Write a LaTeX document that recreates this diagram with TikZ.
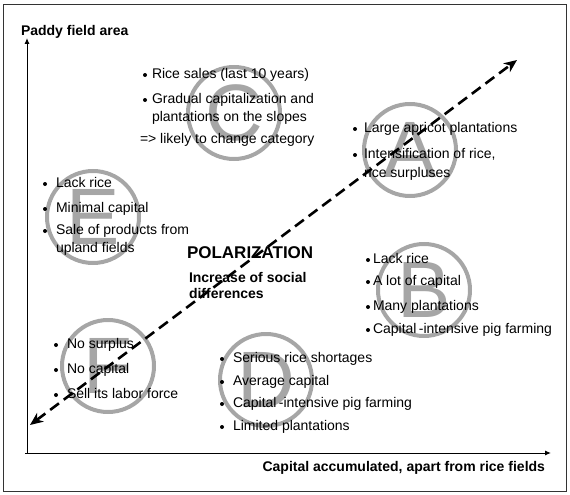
\documentclass[tikz,border=0pt]{standalone}
\usepackage{fontspec}
\setmainfont{Liberation Sans}
\usetikzlibrary{arrows.meta}
\definecolor{ringgray}{HTML}{A6A6A6}
\newcommand{\mybul}[2]{\fill ([xshift=-#2pt,yshift=3pt]#1.base west) circle (2pt);}
\begin{document}
\begin{tikzpicture}[x=1pt,y=-1pt,
  every node/.style={inner sep=0pt,outer sep=0pt},
  txt/.style={anchor=base west,font=\fontsize{14}{16}\selectfont},
  btxt/.style={anchor=base west,font=\fontsize{14}{16}\selectfont\bfseries},
  ring/.style={draw=ringgray,line width=4pt},
  letter/.style={text=ringgray,font=\fontsize{80}{80}\selectfont},
  axis/.style={line width=1pt,-{Latex[length=6pt,width=5pt]}},
  polar/.style={line width=2.6pt,dash pattern=on 11pt off 6pt,{Stealth[length=13pt,width=11pt,inset=4pt]}-{Stealth[length=13pt,width=11pt,inset=4pt]}}]
\useasboundingbox (0,0) rectangle (570,495);
\draw[line width=0.8pt,black!80] (3,4) rectangle (566,491);
% circles with letters
\foreach \n/\l/\cx/\cy in {cC/C/234/113, cA/A/410/150, cE/E/93/217, cF/F/108/366, cD/D/266/380, cB/B/424/290}{
  \draw[ring] (\cx,\cy) circle (46);
  \node[letter] (\n) at (\cx,\cy) {\l};
}
% axes
\coordinate (O) at (27,453);
\coordinate (ytip) at (27,38);
\coordinate (xtip) at (551,453);
\draw[axis] (O) -- (ytip);
\draw[axis] ([xshift=-2pt]O) -- (xtip);
\node[btxt] (ylab) at (21,36) {Paddy field area};
\node[btxt,anchor=base east] (xlab) at (545,471) {Capital accumulated, apart from rice fields};
% polarization arrow
\coordinate (dl) at (30,425);
\coordinate (dr) at (517,60);
\draw[polar] (dl) -- (dr);
% group C
\node[txt] (c1) at (152,78) {Rice sales (last 10 years)};
\node[txt] (c2) at (152,103) {Gradual capitalization and};
\node[txt] (c3) at (152,121) {plantations on the slopes};
\node[txt] (c4) at (140,143) {=> likely to change category};
\mybul{c1}{7}\mybul{c2}{7}
% group A
\node[txt] (a1) at (364,132) {Large apricot plantations};
\node[txt] (a2) at (364,158) {Intensification of rice,};
\node[txt] (a3) at (364,177) {rice surpluses};
\mybul{a1}{9}\mybul{a2}{9}
% group E
\node[txt] (e1) at (56,187) {Lack rice};
\node[txt] (e2) at (56,212) {Minimal capital};
\node[txt] (e3) at (56,234) {Sale of products from};
\node[txt] (e4) at (56,252) {upland fields};
\mybul{e1}{11}\mybul{e2}{11}\mybul{e3}{11}
% polarization text
\node[anchor=base west,font=\fontsize{17}{19}\selectfont\bfseries] (pol) at (187,258) {POLARIZATION};
\node[btxt] (inc1) at (189,282) {Increase of social};
\node[btxt] (inc2) at (189,298) {differences};
% group F
\node[txt] (f1) at (67,348) {No surplus};
\node[txt] (f2) at (67,373) {No capital};
\node[txt] (f3) at (67,398) {Sell its labor force};
\mybul{f1}{11}\mybul{f2}{11}\mybul{f3}{11}
% group D
\node[txt] (d1) at (233,362) {Serious rice shortages};
\node[txt] (d2) at (233,385) {Average capital};
\node[txt] (d3) at (233,407) {Capital\,-intensive pig farming};
\node[txt] (d4) at (233,430) {Limited plantations};
\mybul{d1}{11}\mybul{d2}{11}\mybul{d3}{11}\mybul{d4}{11}
% group B
\node[txt] (b1) at (373,263) {Lack rice};
\node[txt] (b2) at (373,285) {A lot of capital};
\node[txt] (b3) at (373,310) {Many plantations};
\node[txt] (b4) at (373,333) {Capital\,-intensive pig farming};
\mybul{b1}{5}\mybul{b2}{5}\mybul{b3}{5}\mybul{b4}{5}
\end{tikzpicture}
\end{document}
